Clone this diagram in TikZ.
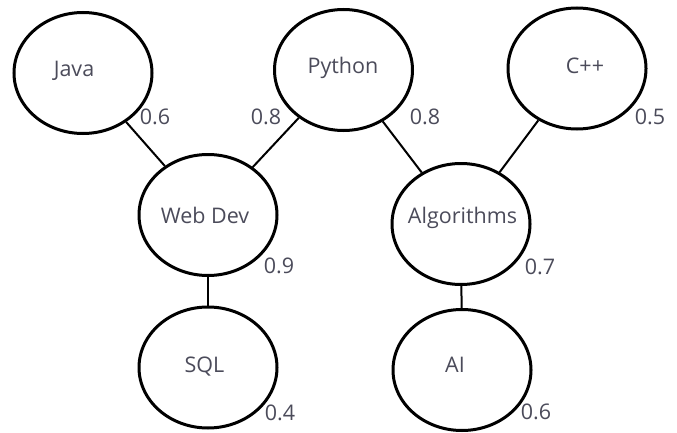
\documentclass[tikz,border=0pt]{standalone}
\usepackage{fontspec}
\setmainfont{Open Sans}
\usetikzlibrary{shapes.geometric}
\definecolor{txtgray}{RGB}{75,75,90}

\begin{document}
\begin{tikzpicture}[x=1pt, y=1pt, every node/.style={font=\fontsize{21.5}{25}\selectfont, text=txtgray}]

   \useasboundingbox (0,0) rectangle (677,432);

   % skill nodes: x/y/name/text shift/label
   \foreach \x/\y/\n/\dx/\dy/\t in {83/359/java/-9/-3.5/Java, 343.5/362/python/-0.5/-4/Python, 577/363.5/cpp/8/-5.5/C++, 208/217/web/-3/-8.5/Web Dev, 461/208/algo/1.5/1/Algorithms, 208/64.5/sql/-3.5/-4.5/SQL, 462/62/ai/-7/-2/AI}
   {
     \node [ellipse,draw,line width=3pt,minimum width=138pt,minimum height=121pt,inner sep=0pt]
        (v\n) at (\x,\y) {};
     \node [anchor=base] (t\n) at ([shift={(\dx,\dy)}]v\n.center) {\t};
   }

    \foreach \i/\j in {java/web, python/web, python/algo, cpp/algo, web/sql, algo/ai}
        \draw[line width=2pt] (v\i) -- (v\j);

    \foreach \x/\y/\n/\t in {155/315/java/0.6, 266/315/pyl/0.8, 425/315/pyr/0.8, 650/315/cpp/0.5, 279/166/web/0.9, 540/165/algo/0.7, 280/19/sql/0.4, 536/20/ai/0.6}
        \node (w\n) at (\x,\y) {\t};

\end{tikzpicture}
\end{document}
